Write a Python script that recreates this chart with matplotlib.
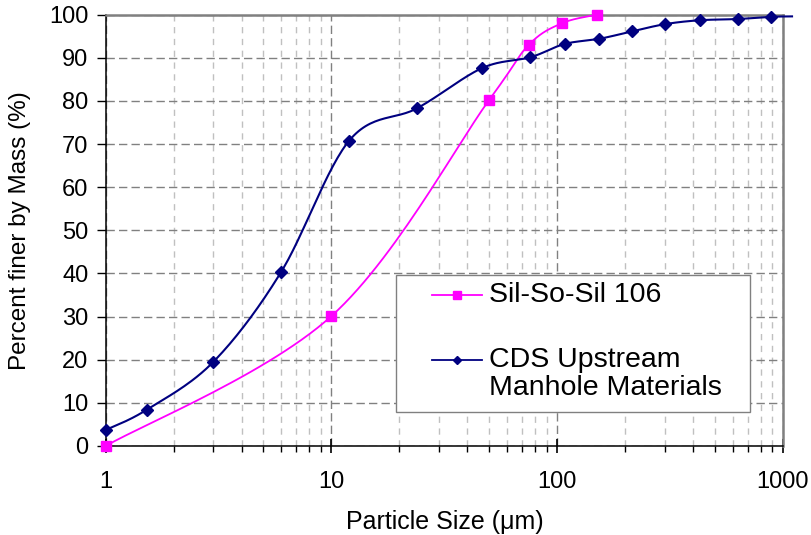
import numpy as np
import matplotlib
matplotlib.use('Agg')
import matplotlib.pyplot as plt
from matplotlib.lines import Line2D
from matplotlib.patches import Rectangle
from matplotlib.ticker import LogLocator, NullFormatter, FixedLocator

plt.rcParams['font.family'] = ['Liberation Sans', 'DejaVu Sans']

# grain size distributions
sil_size = [1, 10, 50, 75, 105, 150]
sil_pct = [0, 30.1, 80.2, 93.0, 98.0, 100]
cds_size = [1, 1.52, 3.0, 6.0, 12.0, 24, 46.5, 76, 108, 154, 214, 301, 428, 637, 889, 1100]
cds_pct = [3.7, 8.4, 19.5, 40.4, 70.8, 78.3, 87.6, 90.1, 93.2, 94.4, 96.1, 97.8, 98.7, 99.0, 99.5, 99.6]

sil_label = 'Sil-So-Sil 106'
cds_label = 'CDS Upstream\nManhole Materials'
sil_color = '#FF00FF'
cds_color = '#000080'


def smooth(xs, ys, n=30):
    # excel style smoothed line: bezier segments in roughly screen units
    u = np.log10(xs) * 225.7
    v = np.asarray(ys, float) * 4.313
    pts = np.column_stack([u, v])
    out = []
    t = np.linspace(0, 1, n)[:, None]
    for i in range(len(pts) - 1):
        p0 = pts[max(i - 1, 0)]
        p1 = pts[i]
        p2 = pts[i + 1]
        p3 = pts[min(i + 2, len(pts) - 1)]
        c1 = p1 + (p2 - p0) / 6
        c2 = p2 - (p3 - p1) / 6
        seg = (1 - t)**3 * p1 + 3 * (1 - t)**2 * t * c1 + 3 * (1 - t) * t**2 * c2 + t**3 * p2
        out.append(seg if i == 0 else seg[1:])
    out = np.vstack(out)
    return 10 ** (out[:, 0] / 225.7), out[:, 1] / 4.313


fig = plt.figure(figsize=(8.11, 5.35), dpi=100)
ax = fig.add_axes([0.1303, 0.1664, 0.8348, 0.8062])
ax.set_xscale('log')
ax.set_xlim(1, 1000)
ax.set_ylim(0, 100)

# lines
sx, sy = smooth(sil_size, sil_pct)
ax.plot(sx, sy, color=sil_color, lw=1.3, zorder=3)
cx, cy = smooth(cds_size, cds_pct)
ax.plot(cx, cy, color=cds_color, lw=1.5, zorder=3, clip_on=False)

# markers (only those inside the axis range are visible)
cds_x = np.array(cds_size)
cds_y = np.array(cds_pct)
inside = cds_x <= 1000
ax.plot(cds_x[inside], cds_y[inside], 'D', color=cds_color, ms=6.2, zorder=4, clip_on=False)
ax.plot(sil_size, sil_pct, 's', color=sil_color, ms=7.8, zorder=5, clip_on=False)

# grid
ax.yaxis.set_major_locator(FixedLocator(np.arange(0, 101, 10)))
ax.xaxis.set_major_locator(LogLocator(base=10))
ax.xaxis.set_minor_locator(LogLocator(base=10, subs=np.arange(2, 10)))
ax.xaxis.set_minor_formatter(NullFormatter())
ax.set_xticks([1, 10, 100, 1000])
ax.set_xticklabels(['1', '10', '100', '1000'])
ax.grid(which='major', color='#808080', lw=1, linestyle=(0, (6, 3)), zorder=0)
ax.grid(which='minor', axis='x', color='#c0c0c0', lw=1, linestyle=(0, (4.5, 4)), zorder=0)
ax.set_axisbelow(True)

for s in ['top', 'right']:
    ax.spines[s].set_color('#808080')
    ax.spines[s].set_linewidth(1.8)
for s in ['left', 'bottom']:
    ax.spines[s].set_color('black')
    ax.spines[s].set_linewidth(1.1)

ax.tick_params(axis='y', direction='out', length=6.5, width=1, labelsize=17, pad=6)
ax.tick_params(axis='x', which='major', direction='inout', length=10, width=1.2, labelsize=17, pad=13)
ax.tick_params(axis='x', which='minor', direction='out', length=4.5, width=1)

ax.set_xlabel('Particle Size (\u03bcm)', fontsize=18, va='center')
ax.xaxis.set_label_coords(0.501, -0.176)
ax.set_ylabel('Percent finer by Mass (%)', fontsize=17.5, va='center')
ax.yaxis.set_label_coords(-0.127, 0.5)

# legend box drawn by hand to keep the handle on the first text line
ax.add_patch(Rectangle((0.4288, 0.0788), 0.5229, 0.3177, transform=ax.transAxes,
                       facecolor='white', edgecolor='#808080', lw=1, zorder=6))
entries = [(sil_label, sil_color, 's', 5.5, 0.350), (cds_label, cds_color, 'D', 4.5, 0.1994)]
for label, color, marker, ms, yy in entries:
    ax.add_line(Line2D([0.4815, 0.5554], [yy, yy], transform=ax.transAxes, color=color,
                       lw=1.3, zorder=7))
    ax.add_line(Line2D([0.5185], [yy], transform=ax.transAxes, color=color, marker=marker,
                       ms=ms, zorder=8))
    ax.text(0.5655, yy + 0.030, label, transform=ax.transAxes, fontsize=20.5, va='top',
            ha='left', linespacing=1.12, zorder=8)

fig.savefig('out.png', dpi=100)
